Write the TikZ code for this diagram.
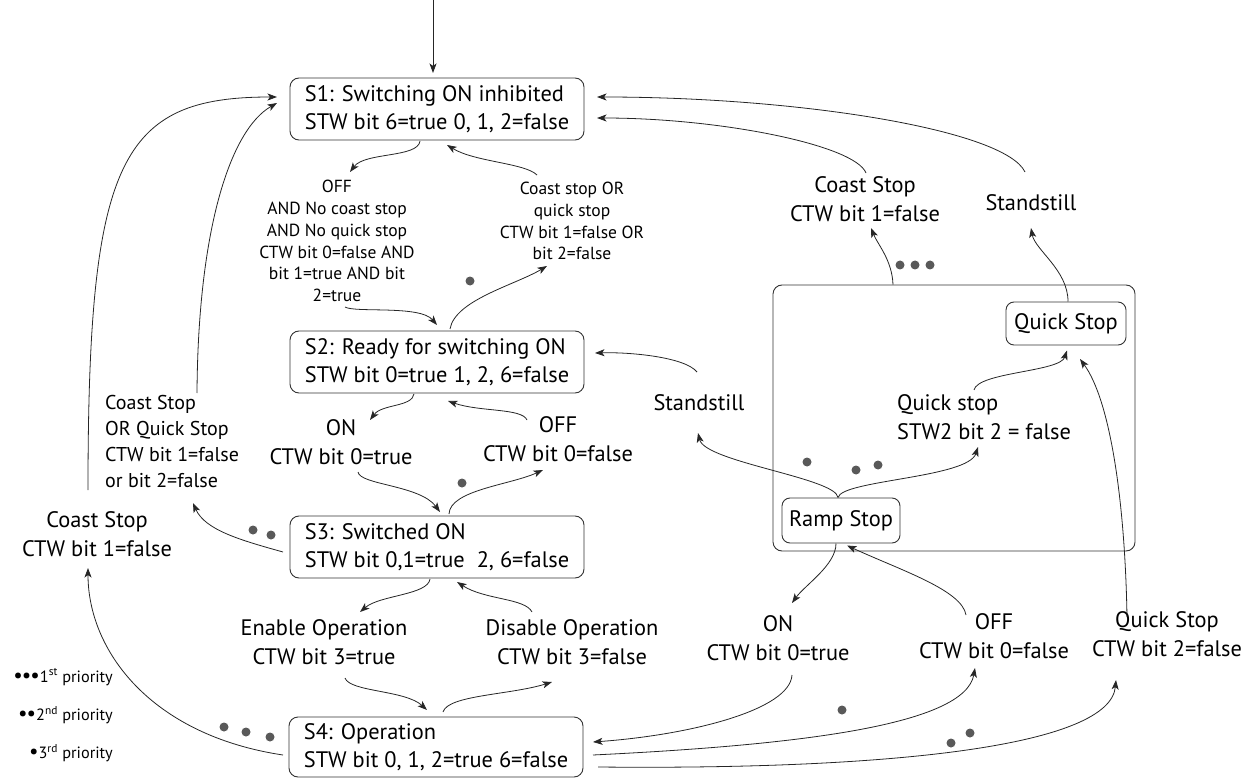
\documentclass[tikz,border=0pt]{standalone}
\usepackage{fontspec}
\setmainfont{PT Sans}
\usetikzlibrary{arrows.meta}
\newcommand\fbig{\fontsize{22.4}{28.5}\selectfont}
\newcommand\fmid{\fontsize{20}{25.7}\selectfont}
\newcommand\fsmall{\fontsize{17.5}{21.8}\selectfont}
\newcommand\fleg{\fontsize{16.3}{19}\selectfont}
\newcommand\legdots[1]{{\fontsize{21}{19}\selectfont #1}}
\begin{document}
\begin{tikzpicture}[x=1pt,y=-1pt,
  state/.style={draw=black!80, line width=0.9pt, rounded corners=9pt,
    minimum width=294pt, minimum height=62pt,
    inner xsep=14pt, align=left, font=\fbig},
  sbox/.style={draw=black!80, line width=0.9pt, rounded corners=8pt,
    inner sep=0pt, font=\fbig},
  bigbox/.style={draw=black!80, line width=0.9pt, rounded corners=9pt,
    minimum width=362pt, minimum height=266pt, inner sep=0pt},
  lbl/.style={inner sep=0pt, align=center, font=\fbig},
  leg/.style={inner sep=0pt, font=\fleg, anchor=east},
  arr/.style={draw=black!85, line width=0.8pt,
    -{Stealth[length=9.5pt,width=7pt,inset=2.4pt]}},
  dotc/.style={fill=black!65}]
\useasboundingbox (0,0) rectangle (1256,778);

% states
\node[state] (s1) at (437,109) {S1: Switching ON inhibited\\STW bit 6=true 0, 1, 2=false};
\node[state] (s2) at (437,362) {S2: Ready for switching ON\\STW bit 0=true 1, 2, 6=false};
\node[state] (s3) at (437,547) {S3: Switched ON\\STW bit 0,1=true\ \ 2, 6=false};
\node[state,minimum height=60pt] (s4) at (436,747) {S4: Operation\\STW bit 0, 1, 2=true 6=false};

\node[bigbox] (big) at (954,418) {};
\node[sbox,minimum width=118pt,minimum height=45pt] (ramp) at (841,520.5) {Ramp Stop};
\node[sbox,minimum width=120pt,minimum height=43pt] (quick) at (1066,323.5) {Quick Stop};

% labels
\node[lbl] (on1) at (341,442) {ON\\CTW bit 0=true};
\node[lbl] (off1) at (558,439) {OFF\\CTW bit 0=false};
\node[lbl] (en) at (324,642) {Enable Operation\\CTW bit 3=true};
\node[lbl] (dis) at (572,642) {Disable Operation\\CTW bit 3=false};
\node[lbl] (cs2) at (97,534) {Coast Stop\\CTW bit 1=false};
\node[lbl] (cs3) at (865,199) {Coast Stop\\CTW bit 1=false};
\node[lbl] (ss1) at (1031,203) {Standstill};
\node[lbl] (ss2) at (699,403) {Standstill};
\node[lbl,align=left,anchor=west] (qs) at (897,417) {Quick stop\\STW2 bit 2 = false};
\node[lbl] (on2) at (778,638) {ON\\CTW bit 0=true};
\node[lbl] (off2) at (994,636) {OFF\\CTW bit 0=false};
\node[lbl] (qs2) at (1167,634) {Quick Stop\\CTW bit 2=false};
\node[lbl,font=\fmid,align=left,anchor=west] (cq) at (105,441.5) {Coast Stop\\OR Quick Stop\\CTW bit 1=false\\or bit 2=false};
\node[lbl,font=\fsmall] (offlbl) at (337,241) {OFF\\AND No coast stop\\AND No quick stop\\CTW bit 0=false AND\\bit 1=true AND bit\\2=true};
\node[lbl,font=\fsmall] (coastlbl) at (572,221) {Coast stop OR\\quick stop\\CTW bit 1=false OR\\bit 2=false};

% legend
\node[leg] (l1) at (113,677) {\legdots{\textbullet\kern-1pt\textbullet\kern-1pt\textbullet}1\textsuperscript{st} priority};
\node[leg] (l2) at (113,715) {\legdots{\textbullet\kern-1pt\textbullet}2\textsuperscript{nd} priority};
\node[leg] (l3) at (113,753) {\legdots{\textbullet}3\textsuperscript{rd} priority};

% connectors
\coordinate (top) at (433,0);
\draw[arr] (top) -- ([shift={(-4,-36)}]s1.center);
\draw[arr] ([shift={(-17,32)}]s1.center) .. controls (418,158) and (365,152) .. ([shift={(13,-69)}]offlbl.center);
\draw[arr] ([shift={(-35,-46)}]coastlbl.center) .. controls (525,163) and (475,162) .. ([shift={(10,36)}]s1.center);
\draw[arr] ([shift={(8,66)}]offlbl.center) .. controls (355,313) and (420,305) .. ([shift={(0,-37)}]s2.center);
\draw[arr] ([shift={(13,-33)}]s2.center) .. controls (455,300) and (515,285) .. ([shift={(-25,45)}]coastlbl.center);
\draw[arr] ([shift={(-2,-31)}]ss2.center) .. controls (685,357) and (630,352) .. ([shift={(158,-9)}]s2.center);
\draw[arr] ([shift={(-23,32)}]s2.center) .. controls (412,407) and (382,404) .. ([shift={(29,-22)}]on1.center);
\draw[arr] ([shift={(-31,-19)}]off1.center) .. controls (522,408) and (480,412) .. ([shift={(11,39)}]s2.center);
\draw[arr] ([shift={(17,30)}]on1.center) .. controls (360,485) and (420,485) .. ([shift={(3,-35)}]s3.center);
\draw[arr] ([shift={(12,-33)}]s3.center) .. controls (450,490) and (510,485) .. ([shift={(-15,31)}]off1.center);
\draw[arr] ([shift={(-154,5)}]s3.center) .. controls (240,540) and (205,530) .. ([shift={(88,61.5)}]cq.west);
\draw[arr] ([shift={(92,-48.5)}]cq.west) .. controls (198,230) and (230,130) .. ([shift={(-160,-6)}]s1.center);
\draw[arr] ([shift={(-9,-44)}]cs2.center) .. controls (88,160) and (120,97) .. ([shift={(-160,-12)}]s1.center);
\draw[arr] ([shift={(-153,8)}]s4.center) .. controls (150,735) and (88,650) .. ([shift={(-9,34)}]cs2.center);
\draw[arr] ([shift={(-7,32)}]s3.center) .. controls (428,595) and (380,595) .. ([shift={(36,-30)}]en.center);
\draw[arr] ([shift={(-40,-30)}]dis.center) .. controls (525,598) and (485,600) .. ([shift={(20,35)}]s3.center);
\draw[arr] ([shift={(21,36)}]en.center) .. controls (350,692) and (405,690) .. ([shift={(-9,-37)}]s4.center);
\draw[arr] ([shift={(7,-35)}]s4.center) .. controls (448,695) and (510,695) .. ([shift={(-20,40)}]dis.center);
\draw[arr] ([shift={(-3,-23)}]ramp.center) .. controls (836,478) and (705,462) .. ([shift={(-1,30)}]ss2.center);
\draw[arr] ([shift={(-3,-23)}]ramp.center) .. controls (842,480) and (968,478) .. ([shift={(81,30)}]qs.west);
\draw[arr] ([shift={(77,-27)}]qs.west) .. controls (978,372) and (1060,372) .. ([shift={(1,27)}]quick.center);
\draw[arr] ([shift={(2,-22)}]quick.center) .. controls (1068,270) and (1035,250) .. ([shift={(0,25)}]ss1.center);
\draw[arr] ([shift={(-61,0)}]big.north) .. controls (892,260) and (878,245) .. ([shift={(6,29)}]cs3.center);
\draw[arr] ([shift={(1,-26)}]cs3.center) .. controls (855,145) and (720,118) .. ([shift={(160,9)}]s1.center);
\draw[arr] ([shift={(-6,-31)}]ss1.center) .. controls (1005,130) and (800,97) .. ([shift={(160,-12)}]s1.center);
\draw[arr] ([shift={(-5,23)}]ramp.center) .. controls (836,565) and (805,585) .. ([shift={(14,-35)}]on2.center);
\draw[arr] ([shift={(-28,-21)}]off2.center) .. controls (962,590) and (900,570) .. ([shift={(6,25)}]ramp.center);
\draw[arr] ([shift={(14,37)}]on2.center) .. controls (790,710) and (690,735) .. ([shift={(157,-5)}]s4.center);
\draw[arr] ([shift={(157,8)}]s4.center) .. controls (800,745) and (965,725) .. ([shift={(-19,32)}]off2.center);
\draw[arr] ([shift={(162,20)}]s4.center) .. controls (900,770) and (1110,745) .. ([shift={(-51,46)}]qs2.center);
\draw[arr] ([shift={(-40,-17)}]qs2.center) .. controls (1125,500) and (1110,400) .. ([shift={(14,35.5)}]quick.center);

% priority dots
\foreach \p in {(470,281),(462,483),(253,530),(271,535),(224,727),(246,732),(270,737),
  (900,265),(915,265),(930,265),(807,462),(856,470),(878,465),(842,710),(951,743),(970,733)}
  \fill[dotc] \p circle (4.5pt);
\end{tikzpicture}
\end{document}
